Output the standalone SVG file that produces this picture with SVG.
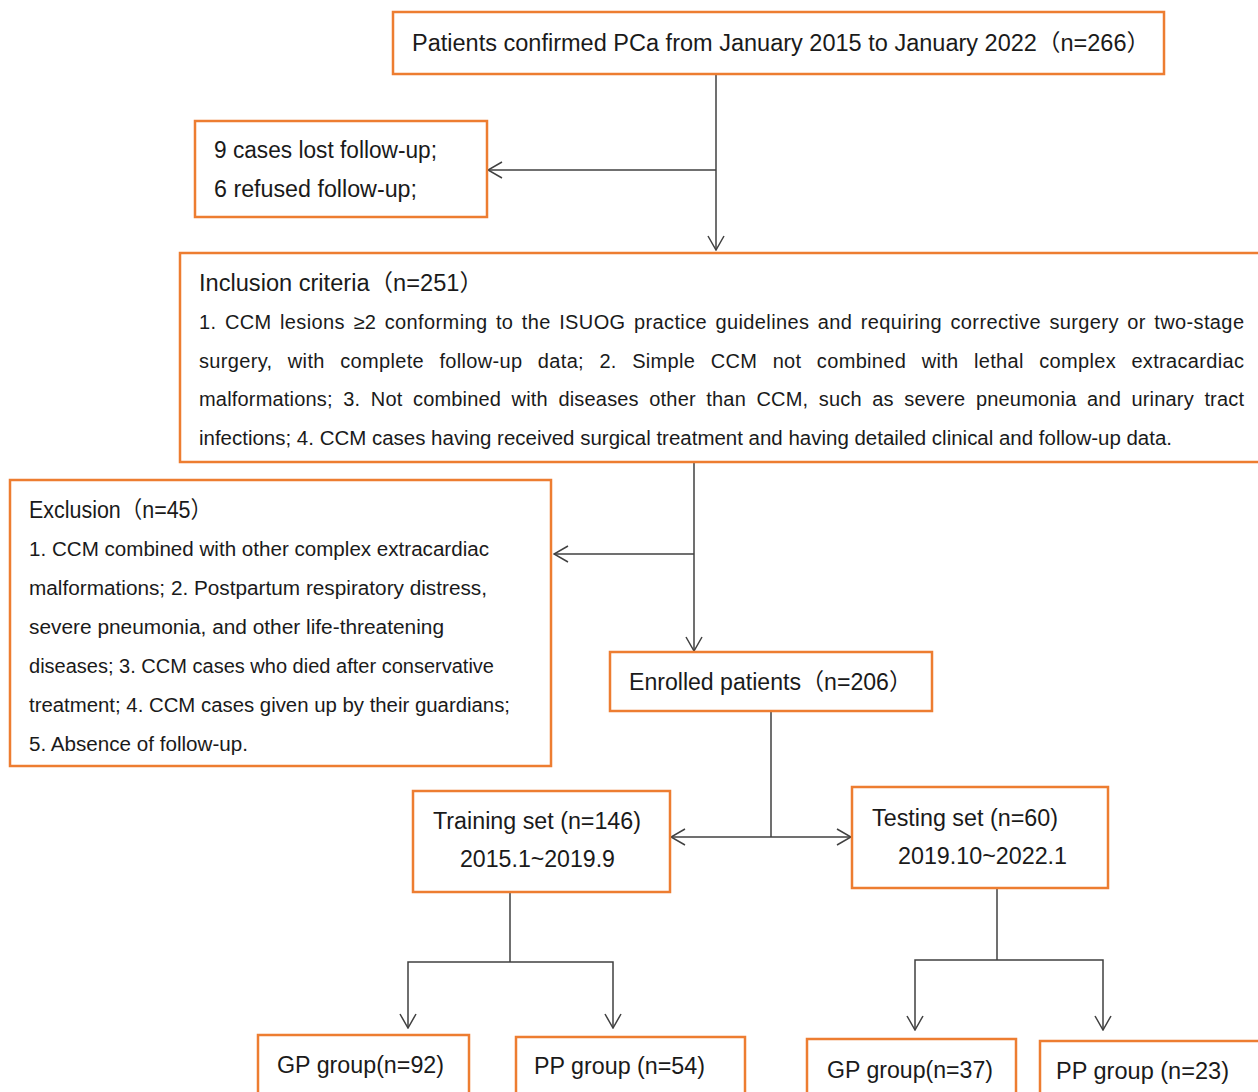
<svg xmlns="http://www.w3.org/2000/svg" width="1258" height="1092" viewBox="0 0 1258 1092">
<defs>
<marker id="arr" markerUnits="userSpaceOnUse" viewBox="0 0 16 18" markerWidth="16" markerHeight="18" refX="15" refY="9" orient="auto-start-reverse">
<path d="M1,1 L15,9 L1,17" fill="none" stroke="#404040" stroke-width="1.5"/>
</marker>
</defs>
<style>
.box{fill:#fff;stroke:#ED7D31;stroke-width:2.5}
.t{font-family:"Liberation Sans","Noto Sans CJK SC",sans-serif;fill:#1a1a1a}
.big{font-size:23px}
.sm{font-size:20px}
.ln{fill:none;stroke:#404040;stroke-width:1.5}
</style>
<rect width="1258" height="1092" fill="#fff"/>
<g id="connectors">
<path class="ln" d="M716,74 V250" marker-end="url(#arr)"/>
<path class="ln" d="M716,170 H488" marker-end="url(#arr)"/>
<path class="ln" d="M694,462 V651" marker-end="url(#arr)"/>
<path class="ln" d="M694,554 H554" marker-end="url(#arr)"/>
<path class="ln" d="M771,711 V837"/>
<path class="ln" d="M671,837 H851" marker-start="url(#arr)" marker-end="url(#arr)"/>
<path class="ln" d="M510,892 V962"/>
<path class="ln" d="M408,1028 V962 H613 V1028" marker-start="url(#arr)" marker-end="url(#arr)"/>
<path class="ln" d="M997,888 V960"/>
<path class="ln" d="M915,1030 V960 H1103 V1030" marker-start="url(#arr)" marker-end="url(#arr)"/>
</g>
<g id="n-top">
<rect class="box" x="393" y="12" width="771" height="62"/>
<text class="t big" x="412" y="51" textLength="738" lengthAdjust="spacingAndGlyphs">Patients confirmed PCa from January 2015 to January 2022（n=266）</text>
</g>
<g id="n-lost">
<rect class="box" x="195" y="121" width="292" height="96"/>
<text class="t big" x="214" y="158" textLength="223" lengthAdjust="spacingAndGlyphs">9 cases lost follow-up;</text>
<text class="t big" x="214" y="197" textLength="203" lengthAdjust="spacingAndGlyphs">6 refused follow-up;</text>
</g>
<g id="n-inclusion">
<rect class="box" x="180" y="253" width="1090" height="209"/>
<text class="t big" x="199" y="291" textLength="284" lengthAdjust="spacingAndGlyphs">Inclusion criteria（n=251）</text>
<text class="t sm" x="199" y="329" word-spacing="2.5" textLength="1045" lengthAdjust="spacing">1. CCM lesions ≥2 conforming to the ISUOG practice guidelines and requiring corrective surgery or two-stage</text>
<text class="t sm" x="199" y="368" word-spacing="9.5" textLength="1045" lengthAdjust="spacing">surgery, with complete follow-up data; 2. Simple CCM not combined with lethal complex extracardiac</text>
<text class="t sm" x="199" y="406" word-spacing="4.8" textLength="1045" lengthAdjust="spacing">malformations; 3. Not combined with diseases other than CCM, such as severe pneumonia and urinary tract</text>
<text class="t sm" x="199" y="445" textLength="973" lengthAdjust="spacingAndGlyphs">infections; 4. CCM cases having received surgical treatment and having detailed clinical and follow-up data.</text>
</g>
<g id="n-exclusion">
<rect class="box" x="10" y="480" width="541" height="286"/>
<text class="t big" x="29" y="518" textLength="183" lengthAdjust="spacingAndGlyphs">Exclusion（n=45）</text>
<text class="t sm" x="29" y="556" textLength="460" lengthAdjust="spacingAndGlyphs">1. CCM combined with other complex extracardiac</text>
<text class="t sm" x="29" y="595" textLength="458" lengthAdjust="spacingAndGlyphs">malformations; 2. Postpartum respiratory distress,</text>
<text class="t sm" x="29" y="634" textLength="415" lengthAdjust="spacingAndGlyphs">severe pneumonia, and other life-threatening</text>
<text class="t sm" x="29" y="673" textLength="465" lengthAdjust="spacingAndGlyphs">diseases; 3. CCM cases who died after conservative</text>
<text class="t sm" x="29" y="712" textLength="481" lengthAdjust="spacingAndGlyphs">treatment; 4. CCM cases given up by their guardians;</text>
<text class="t sm" x="29" y="751" textLength="219" lengthAdjust="spacingAndGlyphs">5. Absence of follow-up.</text>
</g>
<g id="n-enrolled">
<rect class="box" x="610" y="652" width="322" height="59"/>
<text class="t big" x="629" y="690" textLength="283" lengthAdjust="spacingAndGlyphs">Enrolled patients（n=206）</text>
</g>
<g id="n-training">
<rect class="box" x="413" y="791" width="257" height="101"/>
<text class="t big" x="433" y="829" textLength="208" lengthAdjust="spacingAndGlyphs">Training set (n=146)</text>
<text class="t big" x="460" y="867" textLength="155" lengthAdjust="spacingAndGlyphs">2015.1~2019.9</text>
</g>
<g id="n-testing">
<rect class="box" x="852" y="787" width="256" height="101"/>
<text class="t big" x="872" y="826" textLength="186" lengthAdjust="spacingAndGlyphs">Testing set (n=60)</text>
<text class="t big" x="898" y="864" textLength="169" lengthAdjust="spacingAndGlyphs">2019.10~2022.1</text>
</g>
<g id="n-gp1">
<rect class="box" x="258" y="1035" width="211" height="60"/>
<text class="t big" x="277" y="1073" textLength="167" lengthAdjust="spacingAndGlyphs">GP group(n=92)</text>
</g>
<g id="n-pp1">
<rect class="box" x="516" y="1037" width="229" height="58"/>
<text class="t big" x="534" y="1074" textLength="171" lengthAdjust="spacingAndGlyphs">PP group (n=54)</text>
</g>
<g id="n-gp2">
<rect class="box" x="807" y="1039" width="209" height="56"/>
<text class="t big" x="827" y="1078" textLength="166" lengthAdjust="spacingAndGlyphs">GP group(n=37)</text>
</g>
<g id="n-pp2">
<rect class="box" x="1040" y="1041" width="230" height="54"/>
<text class="t big" x="1056" y="1079" textLength="173" lengthAdjust="spacingAndGlyphs">PP group (n=23)</text>
</g>
</svg>
